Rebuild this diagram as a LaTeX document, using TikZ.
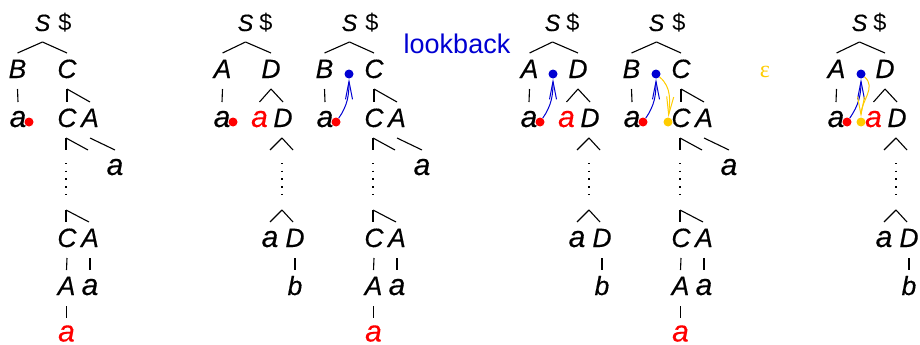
\documentclass[tikz,border=0pt]{standalone}
\usepackage{fontspec}
\setmainfont{Liberation Sans}[ItalicFeatures={FakeBold=0.3}]
\newfontfamily\epsfont{Liberation Serif}
\usetikzlibrary{calc,arrows.meta}
\definecolor{hlred}{RGB}{255,0,0}
\definecolor{lbblue}{RGB}{0,0,210}
\definecolor{epsgold}{RGB}{255,204,0}
% line from just below a parent symbol to just above a child symbol
\newcommand\twigline[2]{\draw[twig] ($(#1.base)+(0,11)$) -- ($(#2.base)+(0,-25)$);}
\begin{document}
\begin{tikzpicture}[x=1pt,y=-1pt,
  sym/.style={inner sep=0pt, anchor=base, font=\itshape\fontsize{26.5}{26.5}\selectfont},
  lowa/.style={sym, font=\itshape\fontsize{30}{30}\selectfont},
  rootsym/.style={sym, font=\itshape\fontsize{23.5}{23.5}\selectfont},
  dolsym/.style={sym, font=\fontsize{23.5}{23.5}\selectfont},
  twig/.style={line width=1.1pt},
  elide/.style={line width=1.1pt, dash pattern=on 1.4pt off 6.3pt},
  dotnode/.style={circle, inner sep=0pt, minimum size=9pt, fill=#1},
  lookarrow/.style={lbblue, line width=1pt, -{Straight Barb[length=18pt,width=7pt]}},
  epsarrow/.style={epsgold, line width=1pt, -{Straight Barb[length=18pt,width=7pt]}},
]
\useasboundingbox (0,0) rectangle (920,345);

% trees with root children B C
\foreach \o/\p in {0/p,307/q,614/r}{
  \node[rootsym] (\p S) at (\o+42.5,31) {S};
  \node[dolsym] (\p dol) at (\o+65,31) {\$};
  \node[sym] (\p B) at (\o+17.5,78) {B};
  \node[sym] (\p C) at (\o+67,78) {C};
  \node[lowa] (\p a) at (\o+18,127) {a};
  \node[dotnode=hlred] (\p rd) at (\o+29,122) {};
  \node[sym] (\p C2) at (\o+67,127) {C};
  \node[sym] (\p A2) at (\o+90,127) {A};
  \node[lowa] (\p a3) at (\o+115,175) {a};
  \node[sym] (\p C4) at (\o+67,247) {C};
  \node[sym] (\p A4) at (\o+90,247) {A};
  \node[sym] (\p A5) at (\o+66.5,295) {A};
  \node[lowa] (\p a5) at (\o+90,295) {a};
  \node[lowa, text=hlred] (\p a6) at (\o+66.5,341.5) {a};
  \coordinate (\p gp) at (\o+66,210);
  \twigline{\p S}{\p B}
  \twigline{\p S}{\p C}
  \twigline{\p B}{\p a}
  \twigline{\p C}{\p C2}
  \twigline{\p C}{\p A2}
  \twigline{\p A2}{\p a3}
  \draw[twig] ($(\p C2.base)+(-1,11)$) -- ++(0,12);
  \draw[twig] ($(\p C2.base)+(-1,11)$) -- ++(22,12);
  \draw[elide] ($(\p C2.base)+(-1,36)$) -- ($(\p gp)+(0,-15)$);
  \draw[twig] (\p gp) -- ($(\p C4.base)+(-1,-25)$);
  \draw[twig] (\p gp) -- ($(\p A4.base)+(-1,-25)$);
  \twigline{\p C4}{\p A5}
  \twigline{\p A4}{\p a5}
  \draw[twig] ($(\p A5.base)+(0,11)$) -- ($(\p a6.base)+(0,-24)$);
}

% trees with root children A D
\foreach \o/\p in {0/u,307/v,614/w}{
  \node[rootsym] (\p S) at (\o+245.5,31) {S};
  \node[dolsym] (\p dol) at (\o+266,31) {\$};
  \node[sym] (\p A) at (\o+222.5,78) {A};
  \node[sym] (\p D) at (\o+271,78) {D};
  \node[lowa] (\p a) at (\o+222,127) {a};
  \node[dotnode=hlred] (\p rd) at (\o+233,122) {};
  \node[lowa, text=hlred] (\p ra) at (\o+259.5,127) {a};
  \node[sym] (\p D2) at (\o+283,127) {D};
  \node[lowa] (\p a4) at (\o+270,247) {a};
  \node[sym] (\p D4) at (\o+295,247) {D};
  \node[sym] (\p b) at (\o+295,295) {b};
  \coordinate (\p ap) at (\o+282,210);
  \twigline{\p S}{\p A}
  \twigline{\p S}{\p D}
  \twigline{\p A}{\p a}
  \twigline{\p D}{\p ra}
  \twigline{\p D}{\p D2}
  \draw[twig] ($(\p D2.base)+(-1,11)$) -- ++(-12,12);
  \draw[twig] ($(\p D2.base)+(-1,11)$) -- ++(11,12);
  \draw[elide] ($(\p D2.base)+(-1,36)$) -- ($(\p ap)+(0,-15)$);
  \draw[twig] (\p ap) -- ($(\p a4.base)+(0,-25)$);
  \draw[twig] (\p ap) -- ($(\p D4.base)+(-2,-25)$);
  \twigline{\p D4}{\p b}
}

% lookback and epsilon markers
\node[dotnode=lbblue] (qbd) at (349,74) {};
\node[dotnode=lbblue] (vbd) at (553,74) {};
\node[dotnode=lbblue] (rbd) at (656,74) {};
\node[dotnode=lbblue] (wbd) at (861,74) {};
\node[dotnode=epsgold] (ryd) at (668,122) {};
\node[dotnode=epsgold] (wyd) at (861,122) {};
\node[text=lbblue, font=\fontsize{27}{27}\selectfont, inner sep=0pt] (lookback) at (457,44) {lookback};
\node[text=epsgold, font=\epsfont\fontsize{24}{24}\selectfont, inner sep=0pt] (epsilon) at (765,72) {ε};

\draw[lookarrow] (qrd) to[out=55,in=-90] (qbd);
\draw[lookarrow] (vrd) to[out=55,in=-90] (vbd);
\draw[lookarrow] (rrd) to[out=55,in=-90] (rbd);
\draw[lookarrow] (wrd) to[out=55,in=-90] (wbd);
\draw[epsarrow] (rbd) to[out=-40,in=85] (ryd);
\draw[epsarrow] (wbd) to[out=-40,in=90] (wyd);
\end{tikzpicture}
\end{document}
